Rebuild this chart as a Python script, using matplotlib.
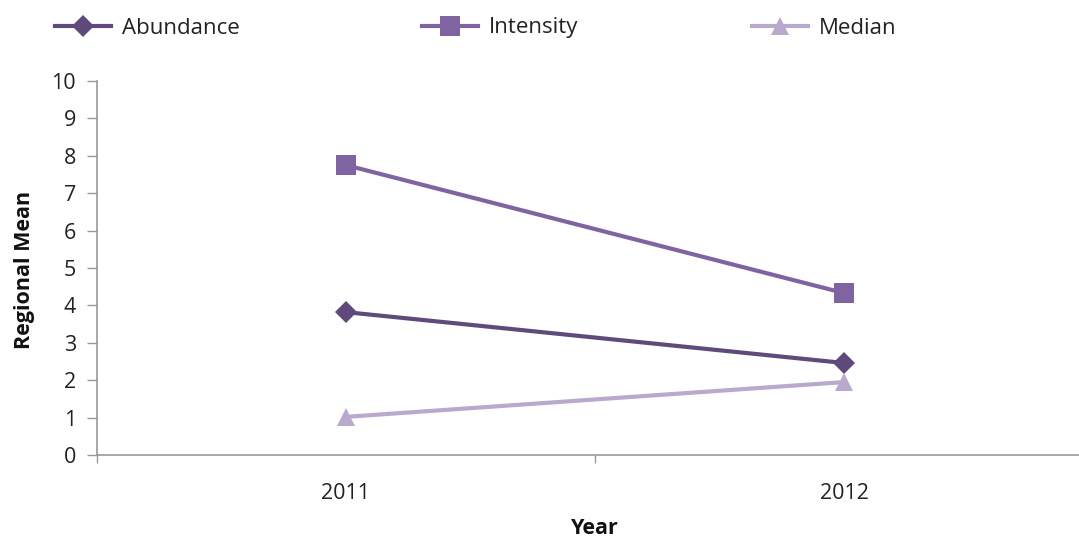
import matplotlib
matplotlib.use("Agg")
import matplotlib.pyplot as plt
from matplotlib.lines import Line2D

years = ["2011", "2012"]
abundance = [3.82, 2.46]
intensity = [7.75, 4.33]
median = [1.02, 1.95]
series_names = ["Abundance", "Intensity", "Median"]

plt.rcParams['font.family'] = ['Open Sans', 'DejaVu Sans']

W, H = 1079, 541
fig = plt.figure(figsize=(W/100, H/100), dpi=100)
left, right = 97, 1093
bottom, top = 455, 81
ax = fig.add_axes([left/W, 1 - bottom/H, (right-left)/W, (bottom-top)/H])

colors = ["#604a7b", "#8064a2", "#b9a9cc"]
markers = ["D", "s", "^"]
msizes = [11, 14, 13]
x = list(range(len(years)))
for vals, c, m, ms, name in zip([abundance, intensity, median], colors, markers, msizes, series_names):
    ax.plot(x, vals, color=c, marker=m, markersize=ms, lw=3, label=name,
            markeredgewidth=0, solid_capstyle='round', clip_on=False)

ax.set_xlim(-0.5, 1.5)
ax.set_ylim(0, 10)
ax.set_yticks(range(0, 11))
ax.set_xticks(x)
ax.set_xticklabels(years)
ax.set_xticks([-0.5, 0.5, 1.5], minor=True)
ax.tick_params(axis='x', which='major', length=0, pad=20, labelsize=15.5, colors='#222222')
ax.tick_params(axis='x', which='minor', length=6, width=1, color='#999999')
ax.tick_params(axis='y', length=7, width=1, color='#999999', labelsize=15.5, pad=8, labelcolor='#222222')
for s in ['top', 'right']:
    ax.spines[s].set_visible(False)
for s in ['left', 'bottom']:
    ax.spines[s].set_color('#999999')
    ax.spines[s].set_linewidth(1.2)

fig.text(25/W, 1 - 270/H, "Regional Mean", rotation=90, ha='center', va='center',
         fontsize=15.5, fontweight='bold', color='#111111')
fig.text(595/W, 1 - 529/H, "Year", ha='center', va='center',
         fontsize=15.5, fontweight='bold', color='#111111')

# legend entries placed manually
leg_x = [55, 422, 752]
for hx, c, m, ms, name in zip(leg_x, colors, markers, msizes, series_names):
    lh = Line2D([0], [0], color=c, marker=m, markersize=ms, lw=3, markeredgewidth=0)
    lg = fig.legend([lh], [name], loc='center left',
                    bbox_to_anchor=(hx/W, 1 - 28/H), frameon=False,
                    handlelength=2.5, handletextpad=0.5, fontsize=16, borderaxespad=0,
                    borderpad=0)
    for t in lg.get_texts():
        t.set_color('#222222')

fig.savefig("out.png", dpi=100)
